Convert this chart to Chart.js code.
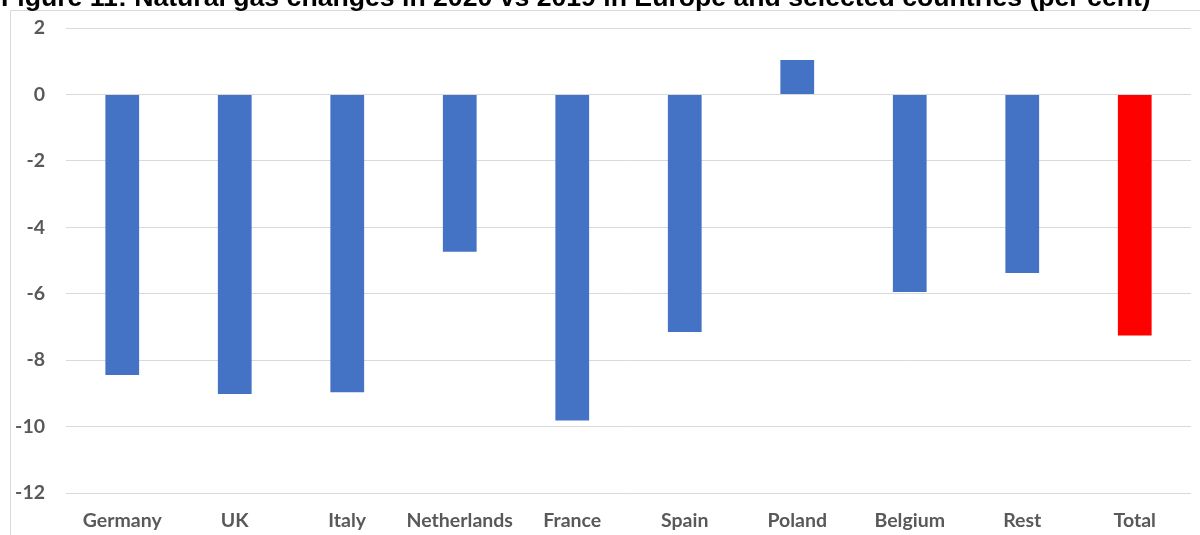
<!DOCTYPE html>
<html>
<head>
<meta charset="utf-8">
<script src="https://cdn.jsdelivr.net/npm/chart.js@4.4.1/dist/chart.umd.min.js"></script>
<style>
  html, body { margin: 0; padding: 0; background: #ffffff; }
  #wrap { position: relative; width: 1200px; height: 535px; overflow: hidden; }
</style>
</head>
<body>
<div id="wrap"><canvas id="chart" width="1200" height="535"></canvas></div>
<script>
const titleText = "Figure 11: Natural gas changes in 2020 vs 2019 in Europe and selected countries (per cent)";

const countries = ["Germany", "UK", "Italy", "Netherlands", "France", "Spain", "Poland", "Belgium", "Rest", "Total"];
const changes = [-8.45, -9.02, -8.97, -4.74, -9.82, -7.15, 1.04, -5.95, -5.38, -7.26];
const barColors = ["#4472C4", "#4472C4", "#4472C4", "#4472C4", "#4472C4", "#4472C4", "#4472C4", "#4472C4", "#4472C4", "#FF0000"];

const yMin = -12;
const yMax = 2;
const yStep = 2;

const labelFont = { family: "Lato, 'Open Sans', sans-serif", size: 19.5, weight: "bold" };
const labelColor = "#595959";
const gridColor = "#d9d9d9";

// frame + clipped title drawn straight onto the canvas
const framePlugin = {
  id: "frame",
  beforeDraw(chart) {
    const ctx = chart.ctx;
    ctx.save();
    ctx.strokeStyle = gridColor;
    ctx.lineWidth = 1;
    ctx.beginPath();
    ctx.moveTo(10.5, 535);
    ctx.lineTo(10.5, 10.5);
    ctx.lineTo(1200, 10.5);
    ctx.stroke();

    // fit title to the width it takes in the figure
    ctx.font = "bold 100px 'Liberation Sans', Arial, sans-serif";
    const w = ctx.measureText(titleText).width;
    const size = 100 * 1150 / w;
    ctx.font = "bold " + size.toFixed(2) + "px 'Liberation Sans', Arial, sans-serif";
    ctx.fillStyle = "#000000";
    ctx.textBaseline = "alphabetic";
    ctx.textAlign = "left";
    ctx.fillText(titleText, 1, 6);
    ctx.restore();
  },
};

const ctx = document.getElementById("chart").getContext("2d");

new Chart(ctx, {
  type: "bar",
  data: {
    labels: countries,
    datasets: [
      {
        data: changes,
        backgroundColor: barColors,
        borderWidth: 0,
        barPercentage: 0.3,
        categoryPercentage: 1.0,
      },
    ],
  },
  options: {
    responsive: false,
    animation: false,
    layout: {
      padding: { top: 28, right: 9, bottom: 0, left: 0 },
    },
    plugins: {
      legend: { display: false },
      title: { display: false },
      tooltip: { enabled: false },
    },
    scales: {
      x: {
        grid: { display: false, drawTicks: false },
        border: { display: false },
        ticks: {
          color: labelColor,
          font: labelFont,
          padding: 16,
          maxRotation: 0,
          autoSkip: false,
        },
        afterFit: (scale) => {
          scale.height = 42;
        },
      },
      y: {
        min: yMin,
        max: yMax,
        grid: { color: gridColor, lineWidth: 1, drawTicks: false },
        border: { display: false },
        ticks: {
          stepSize: yStep,
          color: labelColor,
          font: labelFont,
          padding: 21,
          callback: (value) => String(value),
        },
        afterFit: (scale) => {
          scale.width = 66;
          // tick padding is horizontal here, don't let it push the plot down
          scale.paddingTop = 0;
          scale.paddingBottom = 0;
        },
      },
    },
  },
  plugins: [framePlugin],
});
</script>
</body>
</html>
